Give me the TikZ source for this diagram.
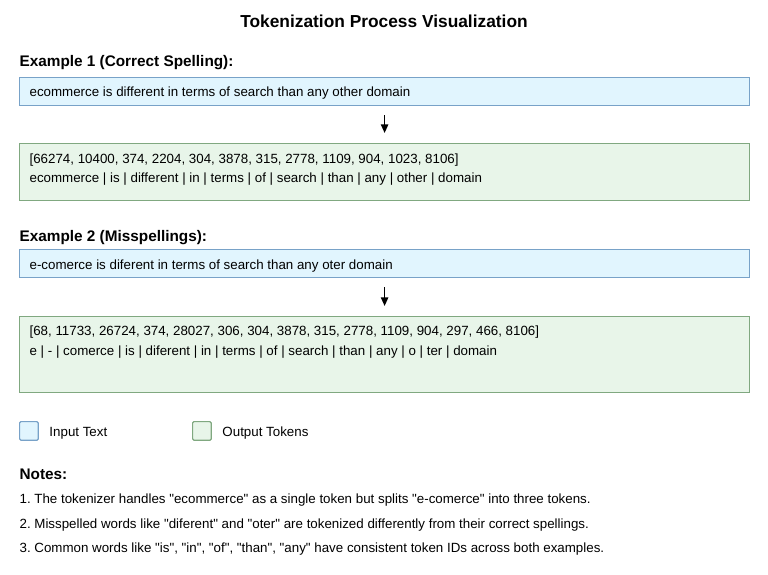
\documentclass[tikz,border=0pt]{standalone}
\usepackage{fontspec}
\setmainfont{Liberation Sans}[Ligatures=TeXOff]
\usetikzlibrary{arrows.meta,positioning}
\definecolor{inFill}{HTML}{E1F5FE}
\definecolor{inLine}{RGB}{120,162,200}
\definecolor{outFill}{HTML}{E8F5E9}
\definecolor{outLine}{RGB}{128,168,128}
\frenchspacing
\begin{document}
\begin{tikzpicture}[x=0.75pt,y=-0.75pt,line width=0.9pt,
      inbox/.style={draw=inLine,fill=inFill,minimum width=547.5pt,inner sep=0pt},
      outbox/.style={draw=outLine,fill=outFill,minimum width=547.5pt,inner sep=0pt},
      keybox/.style={rounded corners=1pt,minimum size=14pt,inner sep=0pt},
      mytext/.style={font=\fontsize{10}{12}\selectfont,inner sep=0pt,anchor=base west},
      heading/.style={font=\fontsize{11.5}{13}\selectfont\bfseries,inner sep=0pt,anchor=base west},
      pfeil/.style={-{Triangle[length=6.5pt,width=5.5pt]},line width=1.1pt,shorten <=6.75pt,shorten >=7.5pt}]
    \useasboundingbox (0,0) rectangle (768,575);
    \node[font=\fontsize{13}{15}\selectfont\bfseries] at (384,21) (title) {Tokenization Process Visualization};
    % example 1
    \node[heading] at (19,66) (H1) {Example 1 (Correct Spelling):};
    \node[inbox,minimum height=21pt,anchor=north west] at (19,77) (A0) {};
    \node[mytext] at (29,96) (A0t) {ecommerce is different in terms of search than any other domain};
    \node[outbox,minimum height=42.75pt,anchor=north west] at (19,143) (A1) {};
    \node[mytext] at (29,163) (A1a) {[66274, 10400, 374, 2204, 304, 3878, 315, 2778, 1109, 904, 1023, 8106]};
    \node[mytext] at (29,182) (A1b) {ecommerce | is | different | in | terms | of | search | than | any | other | domain};
    \draw[pfeil] (A0)--(A1);
    % example 2
    \node[heading] at (19,241) (H2) {Example 2 (Misspellings):};
    \node[inbox,minimum height=21pt,anchor=north west] at (19,249) (B0) {};
    \node[mytext] at (29,269) (B0t) {e-comerce is diferent in terms of search than any oter domain};
    \node[outbox,minimum height=57pt,anchor=north west] at (19,316) (B1) {};
    \node[mytext] at (29,335) (B1a) {[68, 11733, 26724, 374, 28027, 306, 304, 3878, 315, 2778, 1109, 904, 297, 466, 8106]};
    \node[mytext] at (29,355) (B1b) {e | - | comerce | is | diferent | in | terms | of | search | than | any | o | ter | domain};
    \draw[pfeil] (B0)--(B1);
    % legend
    \node[keybox,draw=inLine,fill=inFill,anchor=north west] at (19,421) (K0) {};
    \node[mytext,anchor=west,right=7.5pt of K0,yshift=-1.5pt] (K0t) {Input Text};
    \node[keybox,draw=outLine,fill=outFill,anchor=north west] at (192,421) (K1) {};
    \node[mytext,anchor=west,right=7.5pt of K1,yshift=-1.5pt] (K1t) {Output Tokens};
    % notes
    \node[heading] at (19,479) (N0) {Notes:};
    \node[mytext] at (19,503) (N1) {1. The tokenizer handles "ecommerce" as a single token but splits "e-comerce" into three tokens.};
    \node[mytext] at (19,528) (N2) {2. Misspelled words like "diferent" and "oter" are tokenized differently from their correct spellings.};
    \node[mytext] at (19,552) (N3) {3. Common words like "is", "in", "of", "than", "any" have consistent token IDs across both examples.};
  \end{tikzpicture}
\end{document}
